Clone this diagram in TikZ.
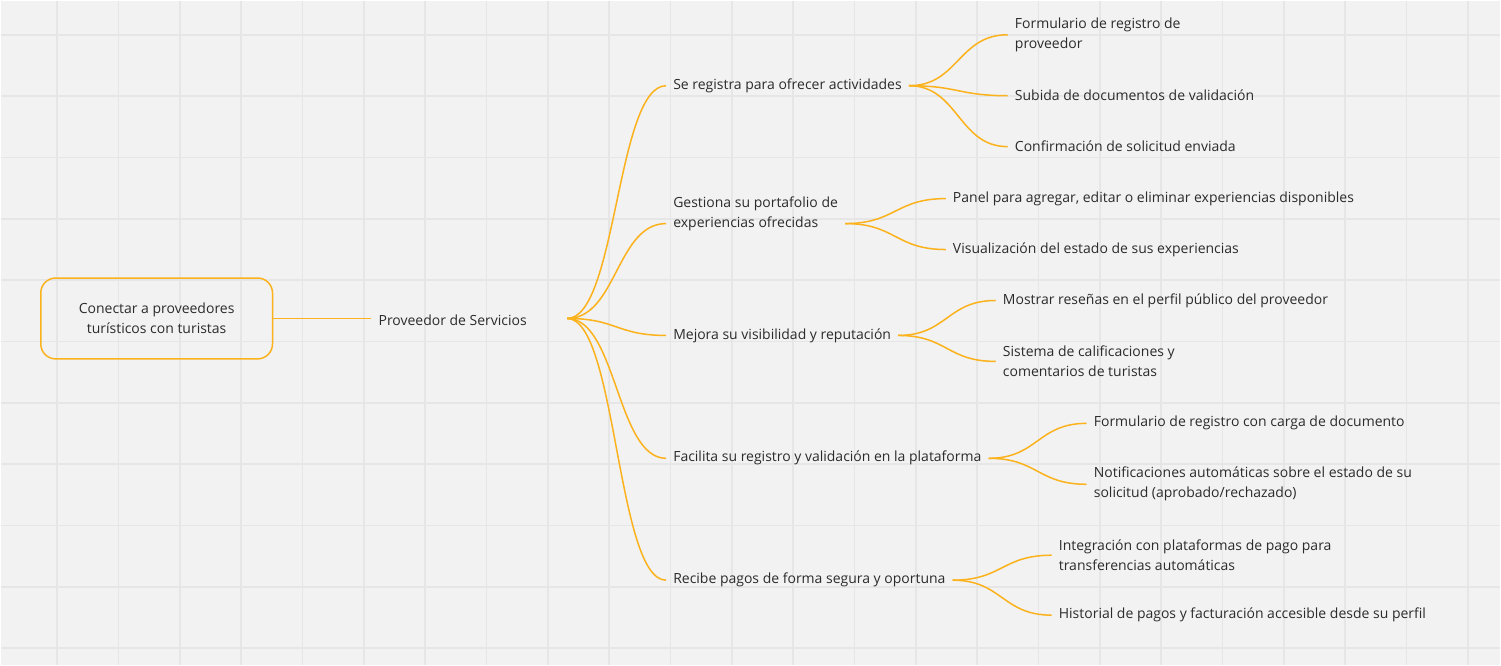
\documentclass[tikz,border=0pt]{standalone}
\usepackage{fontspec}
\setmainfont{Open Sans}
\usetikzlibrary{calc}

\definecolor{boardbg}{HTML}{F2F2F2}
\definecolor{gridline}{HTML}{E6E6E6}
\definecolor{branchcol}{HTML}{FBB21C}
\definecolor{inkcol}{HTML}{2B2B2B}

\tikzstyle{topic}=[anchor=west,inner xsep=7pt,inner ysep=0pt,yshift=-1pt,align=left,text=inkcol,font=\fontsize{14}{20}\selectfont]
\tikzstyle{central}=[draw=branchcol,line width=1.5pt,rounded corners=15pt,minimum width=232pt,minimum height=81pt,align=center,text=inkcol,font=\fontsize{14}{20}\selectfont]
\tikzstyle{branch}=[draw=branchcol,line width=1.5pt,
	to path={.. controls ($(\tikztostart)!0.5!(\tikztotarget |- \tikztostart)$) and ($(\tikztotarget)!0.5!(\tikztostart |- \tikztotarget)$) .. (\tikztotarget)}]

\begin{document}
\begin{tikzpicture}[x=1pt,y=-1pt]
			%Board and grid
			\fill[boardbg] (0,0) rectangle (1501,665);
			\foreach \i in {0,...,23}
			\draw[gridline,line width=1.6pt] (56.3+61.4*\i,0) -- (56.3+61.4*\i,665);
			\foreach \j in {0,...,10}
			\draw[gridline,line width=1.6pt] (0,34+61.4*\j) -- (1501,34+61.4*\j);
			%Central topic
			\node[central] (goal) at (156,318) {Conectar a proveedores\\turísticos con turistas};
			\node[topic] (prov) at (371,319) {Proveedor de Servicios};
			\coordinate (hub) at (567,318);
			\draw[branch] (goal.east) -- (goal.east -| prov.west);
			%Adding first level
			\foreach \pos/\name/\txt in {{(666,84)/reg/Se registra para ofrecer actividades},
									{(666,212)/gest/Gestiona su portafolio de\\experiencias ofrecidas},
									{(666,334)/vis/Mejora su visibilidad y reputación},
									{(666,457)/fac/Facilita su registro y validación en la plataforma},
									{(666,579)/pago/Recibe pagos de forma segura y oportuna}}
			\node[topic] (\name) at \pos {\txt};
			\coordinate (gestin) at ([yshift=-10pt]gest.west);
			\coordinate (gestout) at ([yshift=-10pt]gest.east);
			%Adding second level
			\foreach \pos/\name/\txt in {{(1008,33)/form/Formulario de registro de\\proveedor},
									{(1008,94)/subida/Subida de documentos de validación},
									{(1008,145)/confir/Confirmación de solicitud enviada},
									{(946,197)/panel/{Panel para agregar, editar o eliminar experiencias disponibles}},
									{(946,248)/estado/Visualización del estado de sus experiencias},
									{(996,299)/resena/Mostrar reseñas en el perfil público del proveedor},
									{(996,360)/calif/Sistema de calificaciones y\\comentarios de turistas},
									{(1087,422)/carga/Formulario de registro con carga de documento},
									{(1087,483)/notif/{Notificaciones automáticas sobre el estado de su\\solicitud (aprobado/rechazado)}},
									{(1052,554)/integ/Integración con plataformas de pago para\\transferencias automáticas},
									{(1052,614)/histo/Historial de pagos y facturación accesible desde su perfil}}
			\node[topic] (\name) at \pos {\txt};
			%Branches
			\foreach \dst in {reg.west,gestin,vis.west,fac.west,pago.west}
			\draw[branch] (hub) to (\dst);
			\foreach \src/\dst in {reg.east/form.west,reg.east/subida.west,reg.east/confir.west,
									gestout/panel.west,gestout/estado.west,
									vis.east/resena.west,vis.east/calif.west,
									fac.east/carga.west,fac.east/notif.west,
									pago.east/integ.west,pago.east/histo.west}
			\draw[branch] (\src) to (\dst);
		\end{tikzpicture}
\end{document}
